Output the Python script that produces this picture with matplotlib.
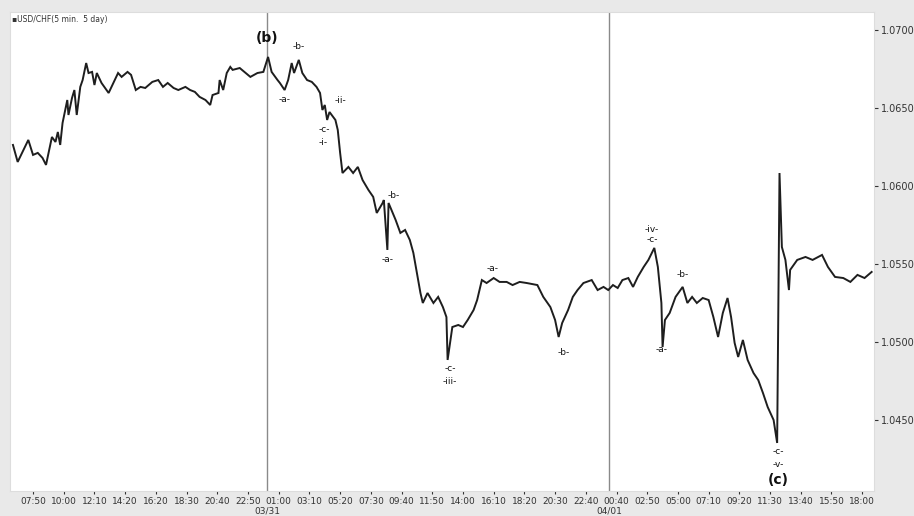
import matplotlib
matplotlib.use("Agg")
import matplotlib.pyplot as plt

# 5-min bar number (0 = 07:50 on 03/30) and USD/CHF price
bar_idx = [
    -17, -13, -4, 0, 4, 8, 11, 16, 19, 21, 23, 25, 29, 30, 33, 35, 37, 40, 42, 45,
    47, 50, 52, 54, 58, 61, 64, 68, 72, 75, 80, 83, 87, 91, 95, 101, 106, 110, 114, 119,
    123, 129, 133, 137, 141, 146, 150, 152, 157, 158, 161, 164, 167, 169,
    175, 184, 190, 195, 199, 202, 207, 209, 213, 216, 219, 221, 225, 228, 232, 236,
    240, 243, 245, 247, 249, 251, 256, 258, 260, 262, 267, 271, 275, 279, 284, 288,
    291, 296, 297, 300, 301, 307, 311, 315, 319, 322, 325, 328, 330, 334, 339, 343,
    347, 350, 351,
    355, 360, 364, 368, 373, 376, 380, 384, 390, 395, 401, 406, 412, 418, 427, 432,
    438, 442, 445, 448, 453, 457, 461, 466, 473, 478, 483, 487, 491, 495, 499, 504,
    508, 512, 517, 521, 526, 529, 532, 533, 535, 539,
    544, 550, 554, 558, 562, 567, 572, 576, 580, 584, 588, 591, 594, 597, 601, 605,
    610, 614, 618, 622, 627, 630, 632, 634, 637, 640, 641, 647, 654, 660, 668, 673,
    679, 686, 692, 698, 704, 710,
]
price = [
    1.06263, 1.06154, 1.06295, 1.06199, 1.06212, 1.06180, 1.06135, 1.06314, 1.06282, 1.06346,
    1.06263, 1.06404, 1.06551, 1.06455, 1.06564, 1.06615, 1.06455, 1.06635, 1.06679, 1.06788,
    1.06724, 1.06731, 1.06647, 1.06724, 1.06660, 1.06628, 1.06596, 1.06660, 1.06724, 1.06699,
    1.06731, 1.06712, 1.06615, 1.06635, 1.06628, 1.06667, 1.06679, 1.06635, 1.06660, 1.06628,
    1.06615, 1.06635, 1.06615, 1.06603, 1.06571, 1.06551, 1.06519, 1.06583, 1.06596, 1.06679,
    1.06615, 1.06724, 1.06763, 1.06744,
    1.06756, 1.06699, 1.06724, 1.06731, 1.06827, 1.06731, 1.06679, 1.06660, 1.06615, 1.06679,
    1.06788, 1.06724, 1.06808, 1.06724, 1.06679, 1.06667, 1.06635, 1.06596, 1.06487, 1.06519,
    1.06423, 1.06474, 1.06423, 1.06359, 1.06212, 1.06083, 1.06122, 1.06083, 1.06122, 1.06038,
    1.05974, 1.05930, 1.05827, 1.05891, 1.05910, 1.05590, 1.05891, 1.05782, 1.05699, 1.05718,
    1.05654, 1.05571, 1.05442, 1.05314, 1.05250, 1.05314, 1.05250, 1.05289, 1.05224, 1.05160,
    1.04885,
    1.05096, 1.05109, 1.05096, 1.05141, 1.05205, 1.05269, 1.05397, 1.05378, 1.05410, 1.05385,
    1.05385, 1.05365, 1.05385, 1.05378, 1.05365, 1.05289, 1.05224, 1.05141, 1.05032, 1.05122,
    1.05205, 1.05289, 1.05333, 1.05378, 1.05397, 1.05333, 1.05353, 1.05333, 1.05365, 1.05346,
    1.05397, 1.05410, 1.05353, 1.05417, 1.05481, 1.05526, 1.05603, 1.05481, 1.05250, 1.04968,
    1.05141, 1.05186,
    1.05289, 1.05353, 1.05250, 1.05289, 1.05250, 1.05282, 1.05269, 1.05160, 1.05032, 1.05186,
    1.05282, 1.05160, 1.04994, 1.04904, 1.05013, 1.04885, 1.04801, 1.04756, 1.04673, 1.04583,
    1.04500, 1.04353, 1.06083, 1.05609, 1.05526, 1.05333, 1.05462, 1.05526, 1.05545, 1.05526,
    1.05558, 1.05481, 1.05417, 1.05410, 1.05385, 1.05430, 1.05410, 1.05449,
]

tick_labels = [
    "07:50", "10:00", "12:10", "14:20", "16:20", "18:30", "20:40", "22:50",
    "01:00", "03:10", "05:20", "07:30", "09:40", "11:50", "14:00", "16:10",
    "18:20", "20:30", "22:40", "00:40", "02:50", "05:00", "07:10", "09:20",
    "11:30", "13:40", "15:50", "18:00",
]
bars_per_tick = 26
y_ticks = [1.0450, 1.0500, 1.0550, 1.0600, 1.0650, 1.0700]

# day separators (bar number of midnight) and their labels
day_bars = [198, 488]
day_labels = ["03/31", "04/01"]

# Elliott wave labels: (text, bar, price, bold)
wave_labels = [
    ("(b)", 198, 1.06949, True),
    ("-b-", 225, 1.06891, False),
    ("-a-", 213, 1.06551, False),
    ("-ii-", 260, 1.06545, False),
    ("-c-", 247, 1.06359, False),
    ("-i-", 246, 1.06276, False),
    ("-b-", 305, 1.05936, False),
    ("-a-", 300, 1.05526, False),
    ("-a-", 389, 1.05474, False),
    ("-c-", 353, 1.04833, False),
    ("-iii-", 353, 1.04750, False),
    ("-b-", 449, 1.04930, False),
    ("-iv-", 524, 1.05724, False),
    ("-c-", 524, 1.05654, False),
    ("-a-", 532, 1.04955, False),
    ("-b-", 550, 1.05430, False),
    ("-c-", 631, 1.04295, False),
    ("-v-", 631, 1.04218, False),
    ("(c)", 631, 1.04115, True),
]


def plot_chart(output_path="out.png"):
    fig = plt.figure(figsize=(9.14, 5.16), dpi=100, facecolor="#e9e9e9")
    ax = fig.add_axes([10 / 914, 25 / 516, 864 / 914, 479 / 516])
    ax.set_facecolor("white")

    ax.plot(bar_idx, price, color="#1e1e1e", linewidth=1.4, solid_joinstyle="miter")

    for b in day_bars:
        ax.axvline(b, color="#8a8a8a", linewidth=1.0, zorder=0)

    for text, b, p, bold in wave_labels:
        ax.text(b, p, text, ha="center", va="center",
                fontsize=10 if bold else 6.5,
                fontweight="bold" if bold else "normal", color="#111111")

    ax.set_xlim(-19.5, 712)
    ax.set_ylim(1.04045, 1.07115)

    ax.set_xticks([i * bars_per_tick for i in range(len(tick_labels))])
    ax.set_xticklabels(tick_labels)
    ax.yaxis.tick_right()
    ax.set_yticks(y_ticks)
    ax.set_yticklabels([f"{v:.4f}" for v in y_ticks])
    ax.get_yticklabels()[4].set_color("#d0d0d0")

    ax.tick_params(axis="x", labelsize=6.5, colors="#333333", length=2, pad=2, direction="out")
    ax.tick_params(axis="y", labelsize=7, colors="#333333", length=3, pad=2)
    for s in ax.spines.values():
        s.set_color("#dddddd")
        s.set_linewidth(0.8)

    for b, lab in zip(day_bars, day_labels):
        ax.annotate(lab, xy=(b, 0), xycoords=("data", "axes fraction"),
                    xytext=(0, -11), textcoords="offset points",
                    ha="center", va="top", fontsize=6.5, color="#333333")

    fig.text(12 / 914, 1 - 20 / 516, "\u25aaUSD/CHF(5 min.  5 day)", fontsize=5.5,
             color="#333333", va="center", ha="left")

    plt.savefig(output_path, dpi=100, facecolor=fig.get_facecolor())
    print(f"Chart saved to {output_path}")


def main():
    plot_chart("out.png")


if __name__ == "__main__":
    main()
